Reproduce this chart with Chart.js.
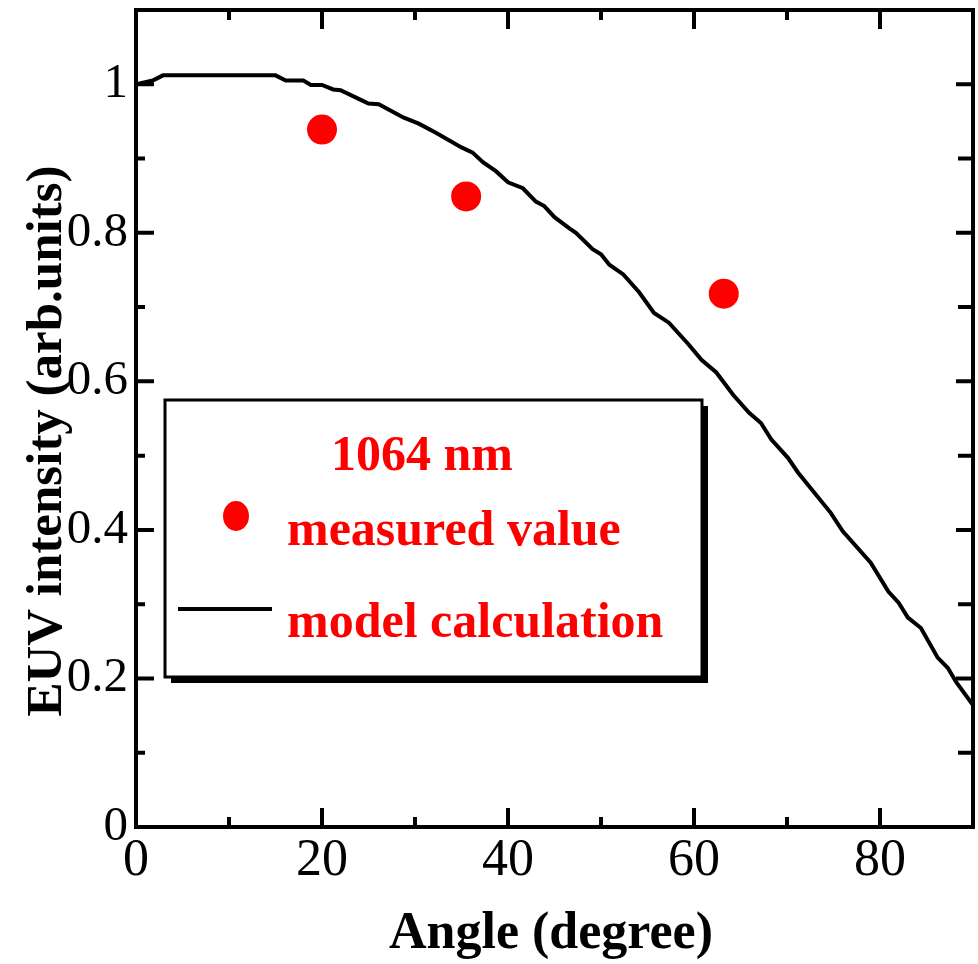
<!DOCTYPE html>
<html>
<head>
<meta charset="utf-8">
<script src="https://cdn.jsdelivr.net/npm/chart.js@4.4.1/dist/chart.umd.min.js"></script>
<style>
  html, body { margin: 0; padding: 0; background: #fff; }
  #wrap { width: 978px; height: 964px; }
</style>
</head>
<body>
<div id="wrap"><canvas id="chart" width="978" height="964"></canvas></div>
<script>
// model calculation curve (angle in degree, intensity arb. units)
const modelAngle = [0, 1.8, 2.9, 15, 16.1, 18, 18.8, 20, 21.2, 22, 24, 25, 26.1, 28.8, 30.4, 32.2,
  35, 36.2, 37.3, 38.7, 40, 41.6, 43, 43.9, 45, 46.6, 47.3, 49.1, 50, 50.9, 52.4, 54.1, 55.7,
  57.3, 59.4, 60.8, 62.4, 64.2, 65.9, 67.2, 68.3, 70.1, 71.2, 74.7, 76, 79, 80.9, 82, 83, 84.4,
  86.2, 87.3, 88.2, 90];
const modelValue = [1.0, 1.005, 1.012, 1.012, 1.005, 1.005, 0.999, 0.999, 0.993, 0.992, 0.98, 0.974,
  0.973, 0.955, 0.947, 0.935, 0.915, 0.908, 0.895, 0.883, 0.868, 0.86, 0.842, 0.836, 0.821, 0.806,
  0.80, 0.778, 0.771, 0.757, 0.744, 0.72, 0.692, 0.679, 0.65, 0.629, 0.612, 0.582, 0.558, 0.544,
  0.522, 0.497, 0.477, 0.423, 0.398, 0.356, 0.317, 0.302, 0.282, 0.268, 0.228, 0.214, 0.195, 0.164];

// measured values
const measuredAngle = [20, 35.5, 63.2];
const measuredValue = [0.939, 0.849, 0.718];

// tick labels and tick marks
const xTicks = [0, 20, 40, 60, 80];
const yTicks = [0, 0.2, 0.4, 0.6, 0.8, 1];
const xMajor = [20, 40, 60, 80];
const xMinor = [10, 30, 50, 70];
const yMajor = [0.2, 0.4, 0.6, 0.8, 1];
const yMinor = [0.1, 0.3, 0.5, 0.7, 0.9];

const serif = '"Liberation Serif", "Times New Roman", serif';

// frame, inward ticks, titles and the boxed legend
const framePlugin = {
  id: 'frame',
  afterDatasetsDraw(chart) {
    const { ctx, chartArea: a, scales } = chart;
    const xs = scales.x, ys = scales.y;
    ctx.save();
    ctx.strokeStyle = '#000';
    ctx.lineWidth = 4;
    ctx.lineCap = 'butt';
    ctx.beginPath();
    const tick = (x1, y1, x2, y2) => { ctx.moveTo(x1, y1); ctx.lineTo(x2, y2); };
    xMajor.forEach(v => { const p = xs.getPixelForValue(v); tick(p, a.bottom, p, a.bottom - 19); tick(p, a.top, p, a.top + 19); });
    xMinor.forEach(v => { const p = xs.getPixelForValue(v); tick(p, a.bottom, p, a.bottom - 10); tick(p, a.top, p, a.top + 10); });
    yMajor.forEach(v => { const p = ys.getPixelForValue(v); tick(a.left, p, a.left + 18, p); tick(a.right, p, a.right - 17, p); });
    yMinor.forEach(v => { const p = ys.getPixelForValue(v); tick(a.left, p, a.left + 9, p); tick(a.right, p, a.right - 15, p); });
    ctx.stroke();
    ctx.strokeRect(a.left, a.top, a.right - a.left, a.bottom - a.top);

    // axis titles
    ctx.fillStyle = '#000';
    ctx.font = 'bold 52px ' + serif;
    ctx.textAlign = 'center';
    ctx.textBaseline = 'alphabetic';
    ctx.fillText('Angle (degree)', 551, 948);
    ctx.save();
    ctx.translate(61, 441);
    ctx.rotate(-Math.PI / 2);
    ctx.font = 'bold 51px ' + serif;
    ctx.fillText('EUV intensity (arb.units)', 0, 0);
    ctx.restore();

    // legend box with shadow
    const bx = 165, by = 400, bw = 537, bh = 277;
    ctx.fillStyle = '#000';
    ctx.fillRect(bx + 6, by + 6, bw, bh);
    ctx.fillStyle = '#fff';
    ctx.fillRect(bx, by, bw, bh);
    ctx.lineWidth = 3;
    ctx.strokeRect(bx, by, bw, bh);

    ctx.fillStyle = '#ff0000';
    ctx.font = 'bold 50px ' + serif;
    ctx.textAlign = 'left';
    ctx.fillText('1064 nm', 331, 470);
    ctx.fillText('measured value', 287, 545);
    ctx.fillText('model calculation', 287, 637);
    ctx.beginPath();
    ctx.ellipse(236, 516, 13, 15, 0, 0, Math.PI * 2);
    ctx.fill();
    ctx.strokeStyle = '#000';
    ctx.lineWidth = 4;
    ctx.beginPath();
    ctx.moveTo(178, 609);
    ctx.lineTo(272, 609);
    ctx.stroke();
    ctx.restore();
  }
};

new Chart(document.getElementById('chart'), {
  type: 'scatter',
  data: {
    datasets: [
      {
        label: 'model calculation',
        data: modelAngle.map((x, i) => ({ x, y: modelValue[i] })),
        showLine: true,
        borderColor: '#000',
        borderWidth: 4,
        pointRadius: 0,
        tension: 0,
        order: 2,
      },
      {
        label: 'measured value',
        data: measuredAngle.map((x, i) => ({ x, y: measuredValue[i] })),
        showLine: false,
        backgroundColor: '#ff0000',
        borderWidth: 0,
        pointRadius: 15,
        order: 1,
      },
    ],
  },
  options: {
    responsive: false,
    animation: false,
    layout: { autoPadding: false, padding: { top: 10, right: 5, left: 0, bottom: 0 } },
    plugins: { legend: { display: false }, tooltip: { enabled: false } },
    scales: {
      x: {
        type: 'linear',
        min: 0,
        max: 90,
        grid: { display: false, drawTicks: false },
        border: { display: false },
        afterBuildTicks: s => { s.ticks = xTicks.map(v => ({ value: v })); },
        afterFit: s => { s.height = 137; s.paddingLeft = 0; s.paddingRight = 0; },
        ticks: { color: '#000', font: { family: serif, size: 52 }, padding: 3, maxRotation: 0 },
      },
      y: {
        min: 0,
        max: 1.1,
        grid: { display: false, drawTicks: false },
        border: { display: false },
        afterBuildTicks: s => { s.ticks = yTicks.map(v => ({ value: v })); },
        afterFit: s => { s.width = 136; s.paddingTop = 0; s.paddingBottom = 0; },
        ticks: {
          color: '#000',
          font: { family: serif, size: 49 },
          padding: 8,
          callback: v => String(Math.round(v * 10) / 10),
        },
      },
    },
  },
  plugins: [framePlugin],
});
</script>
</body>
</html>
